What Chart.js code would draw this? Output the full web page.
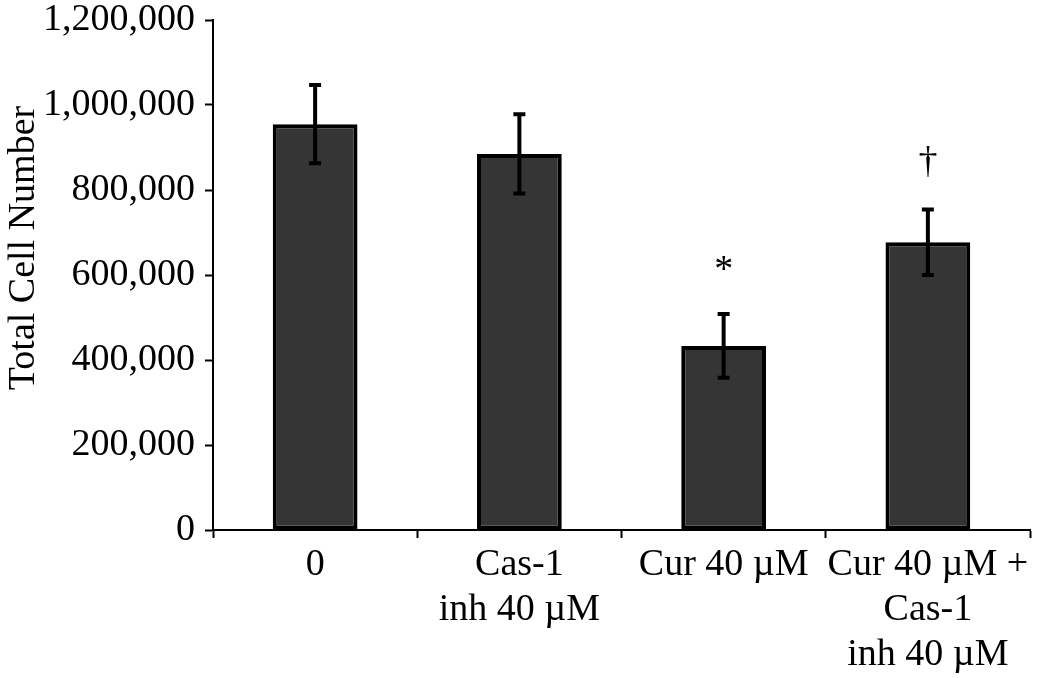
<!DOCTYPE html>
<html>
<head>
<meta charset="utf-8">
<script src="https://cdn.jsdelivr.net/npm/chart.js@4"></script>
<style>
  html, body { margin: 0; padding: 0; background: #fff; }
  #wrap { position: relative; width: 1050px; height: 678px; }
</style>
</head>
<body>
<div id="wrap"><canvas id="chart"></canvas></div>
<script>
// data
const categories = ['0', ['Cas-1', 'inh 40 \u00b5M'], 'Cur 40 \u00b5M', ['Cur 40 \u00b5M +', 'Cas-1', 'inh 40 \u00b5M']];
const cellCounts = [955000, 885000, 433000, 677000];
const errors = [92000, 93000, 75000, 77000];
const marks = ['', '', '*', '\u2020'];
const yTicks = [0, 200000, 400000, 600000, 800000, 1000000, 1200000];
const yTitle = 'Total Cell Number';

const FONT = '"Liberation Serif", "Times New Roman", serif';

const errorBarPlugin = {
    id: 'errorBars',
    afterDatasetsDraw(chart) {
        const ctx = chart.ctx;
        const meta = chart.getDatasetMeta(0);
        const y = chart.scales.y;
        ctx.save();
        ctx.strokeStyle = '#000';
        meta.data.forEach((bar, i) => {
            const x = bar.x;
            const top = y.getPixelForValue(cellCounts[i] + errors[i]);
            const bot = y.getPixelForValue(cellCounts[i] - errors[i]);
            ctx.lineWidth = 4;
            ctx.beginPath();
            ctx.moveTo(x, top);
            ctx.lineTo(x, bot);
            ctx.stroke();
            ctx.beginPath();
            ctx.moveTo(x - 6, top);
            ctx.lineTo(x + 6, top);
            ctx.moveTo(x - 6, bot);
            ctx.lineTo(x + 6, bot);
            ctx.stroke();
            if (marks[i]) {
                ctx.fillStyle = '#000';
                ctx.font = '38px ' + FONT;
                ctx.textAlign = 'center';
                ctx.textBaseline = 'middle';
                ctx.fillText(marks[i], x, top - (marks[i] === '*' ? 43 : 47));
            }
        });
        // y axis title, placed like the original (a bit above the middle)
        ctx.translate(24, 248);
        ctx.rotate(-Math.PI / 2);
        ctx.fillStyle = '#000';
        ctx.font = '38px ' + FONT;
        ctx.textAlign = 'center';
        ctx.textBaseline = 'middle';
        ctx.fillText(yTitle, 0, 0);
        ctx.restore();
    }
};

new Chart(document.getElementById('chart'), {
    type: 'bar',
    data: {
        labels: categories,
        datasets: [{
            data: cellCounts,
            backgroundColor: '#353535',
            borderColor: '#000',
            borderWidth: 4,
            borderSkipped: false,
            categoryPercentage: 1,
            barPercentage: 0.415
        }]
    },
    options: {
        responsive: true,
        maintainAspectRatio: false,
        animation: false,
        layout: { padding: { top: 20, right: 20, left: 0, bottom: 0 } },
        plugins: {
            legend: { display: false },
            tooltip: { enabled: false }
        },
        scales: {
            x: {
                grid: {
                    drawOnChartArea: false,
                    drawTicks: true,
                    tickLength: 8,
                    tickWidth: 2,
                    tickColor: '#000',
                    offset: true
                },
                border: { color: '#000', width: 2 },
                ticks: {
                    color: '#000',
                    font: { family: FONT, size: 38, lineHeight: 1.19 },
                    padding: 4,
                    maxRotation: 0,
                    autoSkip: false
                },
                afterFit(scale) { scale.height = 148; }
            },
            y: {
                min: 0,
                max: 1200000,
                afterBuildTicks(scale) { scale.ticks = yTicks.map(v => ({ value: v })); },
                grid: {
                    drawOnChartArea: false,
                    tickLength: 8,
                    tickWidth: 2,
                    tickColor: '#000'
                },
                border: { color: '#000', width: 2 },
                ticks: {
                    color: '#000',
                    font: { family: FONT, size: 38 },
                    padding: 10,
                    callback: v => v.toLocaleString('en-US')
                },
                afterFit(scale) {
                    scale.width = 213;
                    scale.paddingTop = 0;
                    scale.paddingBottom = 0;
                }
            }
        }
    },
    plugins: [errorBarPlugin]
});
</script>
</body>
</html>
